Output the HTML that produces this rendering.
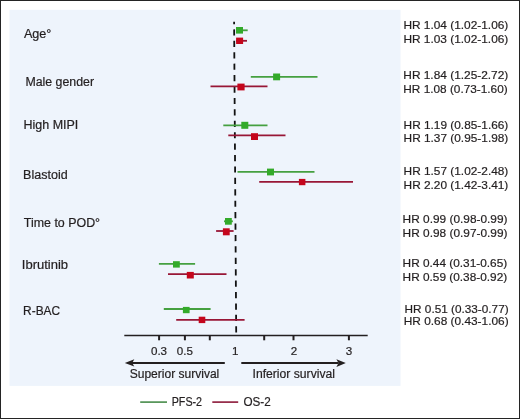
<!DOCTYPE html>
<html><head><meta charset="utf-8">
<style>
html,body{margin:0;padding:0;background:#fff;}
body{width:520px;height:419px;overflow:hidden;}
svg{display:block;will-change:transform;}
text{font-family:"Liberation Sans",sans-serif;fill:#231f20;stroke:#231f20;stroke-width:0.2px;}
</style></head>
<body>
<svg width="520" height="419" viewBox="0 0 520 419">
<rect x="0" y="0" width="520" height="419" fill="#fff"/>

<rect x="9.5" y="9.8" width="391" height="376.1" fill="#eef4fc"/>
<g fill="#242424"><rect x="0" y="0" width="520" height="1"/><rect x="0" y="418" width="520" height="1"/><rect x="0" y="0" width="1" height="419"/><rect x="519" y="0" width="1" height="419"/></g>
<line x1="234.1" y1="21.7" x2="236.2" y2="332.7" stroke="#111" stroke-width="1.8" stroke-dasharray="6.2 5.22" stroke-dashoffset="3.75"/>
<g stroke-width="1.8" fill="none">
<g stroke="#45a040">
<line x1="236" y1="30.3" x2="247.7" y2="30.3"/>
<line x1="250.8" y1="76.8" x2="317.5" y2="76.8"/>
<line x1="223.3" y1="125.4" x2="267.5" y2="125.4"/>
<line x1="237.5" y1="171.8" x2="314.5" y2="171.8"/>
<line x1="224" y1="221.3" x2="232.9" y2="221.3"/>
<line x1="158.9" y1="263.9" x2="195.1" y2="263.9"/>
<line x1="163.8" y1="309.0" x2="210.6" y2="309.0"/>
</g>
<g stroke="#981636">
<line x1="236" y1="40.8" x2="247" y2="40.8"/>
<line x1="210.5" y1="86.3" x2="267.5" y2="86.3"/>
<line x1="228.3" y1="135.3" x2="285.5" y2="135.3"/>
<line x1="259.2" y1="181.8" x2="353" y2="181.8"/>
<line x1="216.1" y1="231" x2="233.6" y2="231"/>
<line x1="168" y1="274.2" x2="226.5" y2="274.2"/>
<line x1="176.2" y1="319.8" x2="244.6" y2="319.8"/>
</g></g>
<g fill="#33aa2a">
<rect x="236" y="27" width="7" height="6.6"/>
<rect x="273.1" y="73.5" width="7" height="6.8"/>
<rect x="241.3" y="121.8" width="7" height="7"/>
<rect x="267" y="168.6" width="7" height="6.8"/>
<rect x="225" y="218" width="6.8" height="6.7"/>
<rect x="173" y="261.2" width="6.8" height="6.4"/>
<rect x="182.9" y="306.9" width="6.7" height="6.3"/>
</g>
<g fill="#c4061c">
<rect x="236.1" y="37.6" width="7" height="6.4"/>
<rect x="237.4" y="83.6" width="7.2" height="6.8"/>
<rect x="251" y="133.2" width="7" height="6.8"/>
<rect x="298.9" y="178.9" width="6.5" height="6.3"/>
<rect x="222.9" y="228.3" width="6.8" height="7"/>
<rect x="186.8" y="271.9" width="7" height="6.6"/>
<rect x="198.7" y="316.7" width="6.6" height="6.4"/>
</g>
<line x1="124.3" y1="335.5" x2="367.7" y2="335.5" stroke="#231f20" stroke-width="1.7"/>
<g stroke="#231f20" stroke-width="2">
<line x1="159.1" y1="335.5" x2="159.1" y2="340.3"/>
<line x1="184.9" y1="335.5" x2="184.9" y2="340.3"/>
<line x1="209.8" y1="335.5" x2="209.8" y2="340.3"/>
<line x1="264.2" y1="335.5" x2="264.2" y2="340.3"/>
<line x1="293.5" y1="335.5" x2="293.5" y2="340.3"/>
<line x1="348.9" y1="335.5" x2="348.9" y2="340.3"/>
</g>
<g font-size="11.6" text-anchor="middle">
<text x="159" y="355.2">0.3</text>
<text x="184.8" y="355.2">0.5</text>
<text x="235.3" y="355">1</text>
<text x="294" y="355.3">2</text>
<text x="348.9" y="355.3">3</text>
</g>
<line x1="132" y1="362.9" x2="224.8" y2="362.9" stroke="#231f20" stroke-width="2"/>
<path d="M124.8 362.9 L134.3 359.2 L132.2 362.9 L134.3 366.6 Z" fill="#231f20"/>
<line x1="241.3" y1="363.1" x2="338.5" y2="363.1" stroke="#231f20" stroke-width="2"/>
<path d="M345.8 363.1 L336.4 359.3 L338.5 363.1 L336.4 366.9 Z" fill="#231f20"/>
<text x="129.7" y="378" font-size="12" textLength="89.6" lengthAdjust="spacingAndGlyphs">Superior survival</text>
<text x="252.5" y="378" font-size="12" textLength="82.5" lengthAdjust="spacingAndGlyphs">Inferior survival</text>
<text x="23.9" y="37.5" font-size="12" textLength="27.5" lengthAdjust="spacingAndGlyphs">Age°</text>
<text x="25.4" y="86.3" font-size="12" textLength="68.7" lengthAdjust="spacingAndGlyphs">Male gender</text>
<text x="23.5" y="129.4" font-size="12" textLength="54.8" lengthAdjust="spacingAndGlyphs">High MIPI</text>
<text x="23.1" y="178.7" font-size="12" textLength="44.6" lengthAdjust="spacingAndGlyphs">Blastoid</text>
<text x="23.8" y="226.5" font-size="12" textLength="76.3" lengthAdjust="spacingAndGlyphs">Time to POD°</text>
<text x="21.8" y="269.2" font-size="12" textLength="46.3" lengthAdjust="spacingAndGlyphs">Ibrutinib</text>
<text x="23.1" y="314.6" font-size="12" textLength="37.0" lengthAdjust="spacingAndGlyphs">R-BAC</text>
<text x="403.4" y="29" font-size="11.8" textLength="104.9" lengthAdjust="spacingAndGlyphs">HR 1.04 (1.02-1.06)</text>
<text x="403.4" y="42.9" font-size="11.8" textLength="104.9" lengthAdjust="spacingAndGlyphs">HR 1.03 (1.02-1.06)</text>
<text x="403.3" y="78.7" font-size="11.8" textLength="105.0" lengthAdjust="spacingAndGlyphs">HR 1.84 (1.25-2.72)</text>
<text x="403.3" y="92.6" font-size="11.8" textLength="104.4" lengthAdjust="spacingAndGlyphs">HR 1.08 (0.73-1.60)</text>
<text x="403.6" y="128.7" font-size="11.8" textLength="104.7" lengthAdjust="spacingAndGlyphs">HR 1.19 (0.85-1.66)</text>
<text x="403.6" y="141.7" font-size="11.8" textLength="104.7" lengthAdjust="spacingAndGlyphs">HR 1.37 (0.95-1.98)</text>
<text x="403.6" y="175.3" font-size="11.8" textLength="104.7" lengthAdjust="spacingAndGlyphs">HR 1.57 (1.02-2.48)</text>
<text x="403.6" y="189.3" font-size="11.8" textLength="104.7" lengthAdjust="spacingAndGlyphs">HR 2.20 (1.42-3.41)</text>
<text x="402.6" y="222.9" font-size="11.8" textLength="104.9" lengthAdjust="spacingAndGlyphs">HR 0.99 (0.98-0.99)</text>
<text x="402.6" y="237.1" font-size="11.8" textLength="104.9" lengthAdjust="spacingAndGlyphs">HR 0.98 (0.97-0.99)</text>
<text x="402.6" y="266.5" font-size="11.8" textLength="104.6" lengthAdjust="spacingAndGlyphs">HR 0.44 (0.31-0.65)</text>
<text x="402.6" y="280.6" font-size="11.8" textLength="104.6" lengthAdjust="spacingAndGlyphs">HR 0.59 (0.38-0.92)</text>
<text x="404.6" y="312.5" font-size="11.8" textLength="104.0" lengthAdjust="spacingAndGlyphs">HR 0.51 (0.33-0.77)</text>
<text x="403.7" y="325.2" font-size="11.8" textLength="104.9" lengthAdjust="spacingAndGlyphs">HR 0.68 (0.43-1.06)</text>
<line x1="140.2" y1="402.1" x2="167" y2="402.1" stroke="#478c4a" stroke-width="1.6"/>
<text x="171.7" y="406" font-size="12" textLength="30.4" lengthAdjust="spacingAndGlyphs">PFS-2</text>
<line x1="212.3" y1="402.1" x2="238.2" y2="402.1" stroke="#8c1838" stroke-width="1.6"/>
<text x="243.4" y="406.1" font-size="12" textLength="27.3" lengthAdjust="spacingAndGlyphs">OS-2</text>
</svg>
</body></html>
